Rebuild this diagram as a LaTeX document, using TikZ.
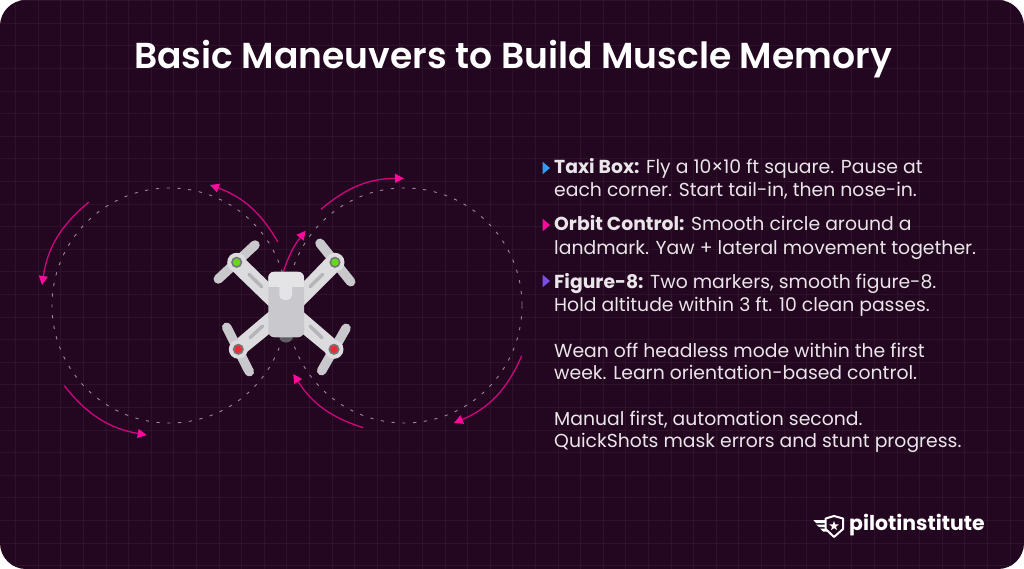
\documentclass[tikz,border=0pt]{standalone}
\usepackage{fontspec}
\setmainfont{Poppins}
\newfontfamily\titlefont{Poppins SemiBold}
\usetikzlibrary{arrows.meta,shapes.geometric}
\definecolor{panelbg}{HTML}{23061F}
\definecolor{gridcol}{HTML}{2E1229}
\definecolor{pathcol}{HTML}{9A8C98}
\definecolor{turncol}{HTML}{D0057F}
\definecolor{tipcol}{HTML}{FF0A9C}
\definecolor{bodylight}{HTML}{E4E4E6}
\definecolor{bodymid}{HTML}{C9C9CD}
\definecolor{armcol}{HTML}{DCDCDF}
\definecolor{groovecol}{HTML}{B4B4B9}
\definecolor{hubcol}{HTML}{77767A}
\definecolor{ledgreen}{HTML}{66D91A}
\definecolor{ledred}{HTML}{EE2A35}
\definecolor{textcol}{HTML}{E9E5E9}
\definecolor{markblue}{HTML}{2F9BF5}
\definecolor{markviolet}{HTML}{7A4FE6}
\tikzset{
  flightpath/.style={pathcol,line width=0.9pt,dash pattern=on 3.2pt off 7.6pt},
  turnarrow/.style={turncol,line width=1.3pt,-{Triangle[length=9pt,width=9pt,color=tipcol]}},
  arm/.style={fill=armcol},
  groove/.style={groovecol,line width=3.4pt,line cap=round},
  blade/.style={bodymid,line width=9.5pt,line cap=round},
  bodyline/.style={anchor=base west,inner sep=0pt,text=textcol,font=\fontsize{18.8}{18.8}\selectfont},
}
\newcommand{\motor}[2]{
  \fill[armcol] (#1) circle (9.5);
  \fill[hubcol] (#1) circle (5.6);
  \fill[#2] (#1) circle (3.7);
}
\newcommand{\marker}[2]{
  \fill[#2] (542.7,#1-6.2) -- (550,#1) -- (542.7,#1+6.2) -- cycle;
}
\begin{document}
\begin{tikzpicture}[x=1pt,y=-1pt]
  \useasboundingbox (0,0) rectangle (1024,569);
  \fill[white] (0,0) rectangle (1024,569);
  \fill[panelbg,rounded corners=26pt] (0,0) rectangle (1024,569);

  % background grid
  \begin{scope}
    \clip[rounded corners=26pt] (0,0) rectangle (1024,569);
    \foreach \i in {0,...,45}
      \draw[gridcol,line width=0.7pt] (15.6+22.6*\i,0) -- (15.6+22.6*\i,569);
    \foreach \j in {0,...,25}
      \draw[gridcol,line width=0.7pt] (0,0.6+22.6*\j) -- (1024,0.6+22.6*\j);
  \end{scope}

  \node[text=white,font=\fontsize{36.1}{36.1}\titlefont,inner sep=0pt,anchor=base] (title) at (513,69) {Basic Maneuvers to Build Muscle Memory};

  % figure-8 circles
  \draw[flightpath] (169.5,305.5) circle (117.5);
  \draw[flightpath] (404.5,305.5) circle (117.5);

  % arrow ends
  \coordinate (a1) at (89,202);     \coordinate (a2) at (42,285);
  \coordinate (b1) at (277.7,241.7);\coordinate (b2) at (210,185);
  \coordinate (c1) at (64.3,385.7); \coordinate (c2) at (146.7,435);
  \coordinate (d1) at (321,209.3);  \coordinate (d2) at (404,178.3);
  \coordinate (e1) at (283.3,271.7);\coordinate (e2) at (305.7,230.7);
  \coordinate (f1) at (521.7,355.7);\coordinate (f2) at (454,423);
  \coordinate (g1) at (363.3,427.7);\coordinate (g2) at (293.3,374);

  \draw[turnarrow] (a1) to[bend right=21] (a2);
  \draw[turnarrow] (b1) to[bend right=20] (b2);
  \draw[turnarrow] (c1) to[bend right=21] (c2);
  \draw[turnarrow] (d1) to[bend left=20] (d2);
  \draw[turnarrow] (e1) to[bend left=10] (e2);
  \draw[turnarrow] (f1) to[bend left=22] (f2);
  \draw[turnarrow] (g1) to[bend left=20] (g2);

  % drone
  \coordinate (nw) at (236.7,262.3);
  \coordinate (ne) at (335,262.3);
  \coordinate (sw) at (238.3,349.3);
  \coordinate (se) at (334,349.3);

  \path[arm] (243.3,257.3) -- (270,283.3) -- (270,307.3) -- (230.7,269.3) -- cycle;
  \path[arm] (328.3,256) -- (302,283.3) -- (302,307.3) -- (340,269.3) -- cycle;
  \path[arm] (230.7,344) -- (270,310.7) -- (270,333.3) -- (243.3,355) -- cycle;
  \path[arm] (328.3,355) -- (302,333.3) -- (302,310.7) -- (340.7,344) -- cycle;
  \draw[groove] (249,274.3) -- (261.7,286.7);
  \draw[groove] (322.7,274.3) -- (310,286.7);
  \draw[groove] (250,337.7) -- (262.7,326);
  \draw[groove] (322,337.7) -- (310,326);

  \draw[blade] (255,245) -- (218.3,279);
  \draw[blade] (320,243.3) -- (350.7,281.7);
  \draw[blade] (226.7,327.3) -- (249.3,371.7);
  \draw[blade] (346,328.3) -- (321.7,370.7);
  \motor{nw}{ledgreen}
  \motor{ne}{ledgreen}
  \motor{sw}{ledred}
  \motor{se}{ledred}

  \fill[hubcol!80!black] (286,337.5) ellipse (6.5 and 5);
  \fill[bodymid,rounded corners=6pt] (268.3,271.7) rectangle (304,337.3);
  \begin{scope}
    \clip[rounded corners=6pt] (268.3,271.7) rectangle (304,337.3);
    \fill[bodylight] (268.3,271.7) rectangle (304,286.7);
  \end{scope}
  \fill[bodylight,rounded corners=5pt] (279.3,280) -- (279.3,300) -- (292,300) -- (292,280) -- cycle;

  % text column
  \marker{168}{markblue}
  \marker{225}{tipcol}
  \marker{281}{markviolet}

  \node[bodyline] (line1) at (554,174) {\textbf{Taxi Box:} Fly a 10×10 ft square. Pause at};
  \node[bodyline] (line2) at (554,197) {each corner. Start tail-in, then nose-in.};
  \node[bodyline] (line3) at (554,231) {\textbf{Orbit Control:} Smooth circle around a};
  \node[bodyline] (line4) at (554,254) {landmark. Yaw + lateral movement together.};
  \node[bodyline] (line5) at (554,288) {\textbf{Figure-8:} Two markers, smooth figure-8.};
  \node[bodyline] (line6) at (554,311) {Hold altitude within 3 ft. 10 clean passes.};
  \node[bodyline] (line7) at (554,357) {Wean off headless mode within the first};
  \node[bodyline] (line8) at (554,379.5) {week. Learn orientation-based control.};
  \node[bodyline] (line9) at (554,425) {Manual first, automation second.};
  \node[bodyline] (line10) at (554,447.5) {QuickShots mask errors and stunt progress.};

  % logo
  \fill[white] (813.3,520) -- (826,520) -- (826,523) -- (816,523) -- cycle;
  \fill[white] (816,524.5) -- (826,524.5) -- (826,527) -- (819,527) -- cycle;
  \fill[white] (820,528.5) -- (827,528.5) -- (828,531.5) -- (823,531.5) -- cycle;
  \draw[white,line width=2pt,fill=panelbg,line join=round] (834,516) -- (843,518.5) -- (843,529) -- (834,537) -- (825.7,529) -- (825.7,518.5) -- cycle;
  \node[star,star points=5,star point ratio=2.4,fill=white,inner sep=0pt,minimum size=10pt] (logostar) at (834,526) {};
  \node[anchor=base west,inner sep=0pt,text=white,font=\fontsize{20.4}{20.4}\selectfont\bfseries] (brand) at (849,530) {pilotinstitute};
\end{tikzpicture}
\end{document}
